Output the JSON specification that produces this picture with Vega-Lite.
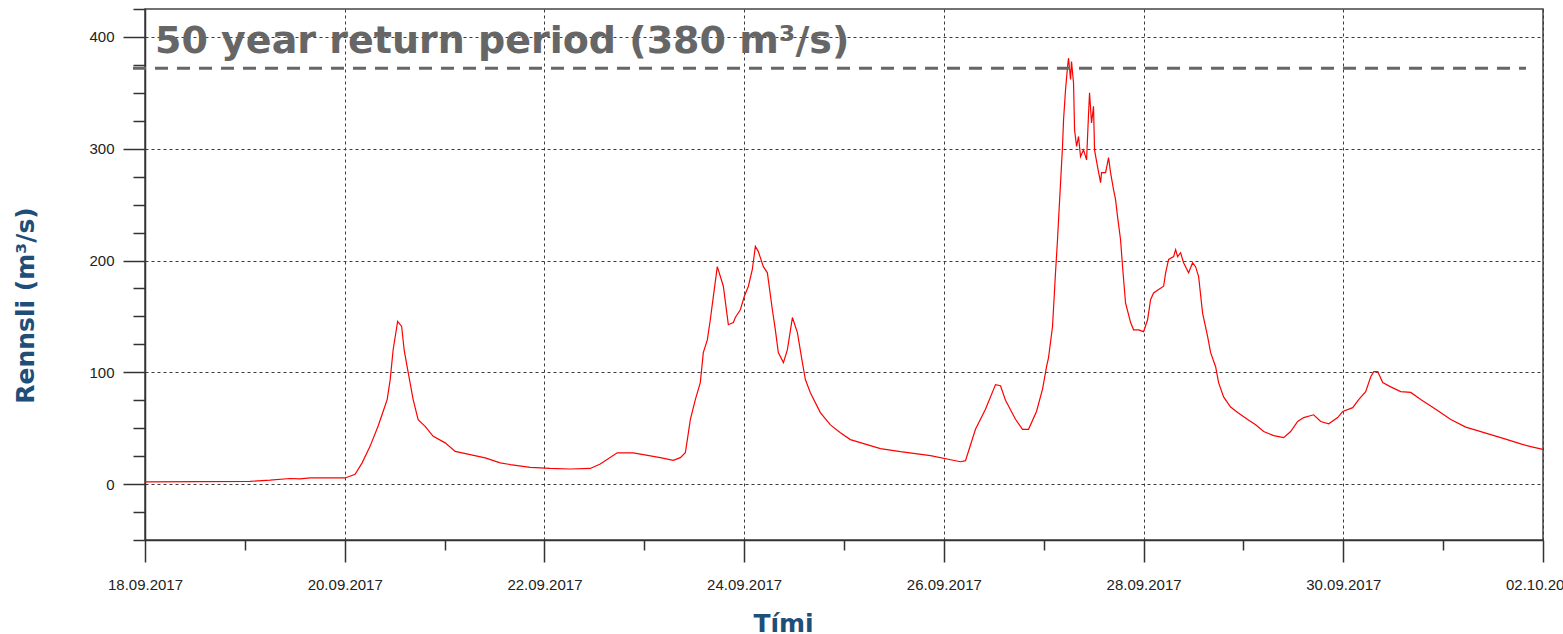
{
  "$schema": "https://vega.github.io/schema/vega-lite/v6.json",
  "width": 1398,
  "height": 531,
  "autosize": {"type": "none"},
  "padding": {"left": 145, "top": 9, "right": 20, "bottom": 94},
  "background": "white",
  "config": {
    "view": {"stroke": "#444", "strokeWidth": 1.5},
    "axis": {
      "domainColor": "#333",
      "domainWidth": 1.5,
      "tickColor": "#333",
      "tickWidth": 1.5,
      "gridColor": "#3c3c3c",
      "gridDash": [3, 3],
      "gridWidth": 1,
      "gridOpacity": 1,
      "labelFont": "Liberation Sans",
      "labelFontSize": 15,
      "labelColor": "#222",
      "titleFont": "DejaVu Sans",
      "titleFontSize": 25,
      "titleFontWeight": "bold",
      "titleColor": "#1f4e79"
    }
  },
  "datasets": {
    "flow": [
      {"t": "2017-09-18T00:00", "q": 2},
      {"t": "2017-09-19T01:15", "q": 2.5},
      {"t": "2017-09-19T06:04", "q": 3.5},
      {"t": "2017-09-19T10:52", "q": 5},
      {"t": "2017-09-19T13:16", "q": 4.6},
      {"t": "2017-09-19T15:41", "q": 5.5},
      {"t": "2017-09-20T00:06", "q": 5.5},
      {"t": "2017-09-20T02:30", "q": 8.8},
      {"t": "2017-09-20T04:11", "q": 19},
      {"t": "2017-09-20T06:07", "q": 34},
      {"t": "2017-09-20T08:02", "q": 52},
      {"t": "2017-09-20T09:14", "q": 65},
      {"t": "2017-09-20T10:12", "q": 75.6},
      {"t": "2017-09-20T10:55", "q": 93},
      {"t": "2017-09-20T11:38", "q": 120},
      {"t": "2017-09-20T12:43", "q": 145.6},
      {"t": "2017-09-20T13:41", "q": 141},
      {"t": "2017-09-20T14:17", "q": 120},
      {"t": "2017-09-20T15:15", "q": 100},
      {"t": "2017-09-20T16:27", "q": 75.6},
      {"t": "2017-09-20T17:39", "q": 57.7},
      {"t": "2017-09-20T19:20", "q": 51.7},
      {"t": "2017-09-20T21:16", "q": 42.8},
      {"t": "2017-09-21T00:09", "q": 36.9},
      {"t": "2017-09-21T02:33", "q": 29.3},
      {"t": "2017-09-21T06:09", "q": 26.4},
      {"t": "2017-09-21T09:46", "q": 23.4},
      {"t": "2017-09-21T13:22", "q": 19},
      {"t": "2017-09-21T15:47", "q": 17.5},
      {"t": "2017-09-21T20:35", "q": 15},
      {"t": "2017-09-22T01:24", "q": 14},
      {"t": "2017-09-22T06:12", "q": 13.5},
      {"t": "2017-09-22T11:01", "q": 14},
      {"t": "2017-09-22T13:25", "q": 18},
      {"t": "2017-09-22T17:30", "q": 28},
      {"t": "2017-09-22T21:21", "q": 28},
      {"t": "2017-09-22T23:46", "q": 26.4},
      {"t": "2017-09-23T03:51", "q": 23.7},
      {"t": "2017-09-23T06:58", "q": 21.3},
      {"t": "2017-09-23T08:40", "q": 23.7},
      {"t": "2017-09-23T09:52", "q": 28},
      {"t": "2017-09-23T10:21", "q": 39.8},
      {"t": "2017-09-23T11:04", "q": 57.7},
      {"t": "2017-09-23T12:16", "q": 75.6},
      {"t": "2017-09-23T13:28", "q": 90.8},
      {"t": "2017-09-23T14:11", "q": 117.6},
      {"t": "2017-09-23T15:09", "q": 129},
      {"t": "2017-09-23T15:52", "q": 147},
      {"t": "2017-09-23T16:36", "q": 168},
      {"t": "2017-09-23T17:33", "q": 194.5},
      {"t": "2017-09-23T19:00", "q": 177},
      {"t": "2017-09-23T20:12", "q": 142.6},
      {"t": "2017-09-23T21:24", "q": 144.5},
      {"t": "2017-09-23T21:53", "q": 149},
      {"t": "2017-09-23T23:05", "q": 156},
      {"t": "2017-09-24T00:03", "q": 168},
      {"t": "2017-09-24T01:01", "q": 177},
      {"t": "2017-09-24T01:58", "q": 192},
      {"t": "2017-09-24T02:42", "q": 212.6},
      {"t": "2017-09-24T03:25", "q": 208},
      {"t": "2017-09-24T04:37", "q": 194.5},
      {"t": "2017-09-24T05:35", "q": 189},
      {"t": "2017-09-24T06:47", "q": 156},
      {"t": "2017-09-24T07:30", "q": 138},
      {"t": "2017-09-24T08:13", "q": 117.6},
      {"t": "2017-09-24T09:26", "q": 108.7},
      {"t": "2017-09-24T10:23", "q": 120},
      {"t": "2017-09-24T11:36", "q": 149},
      {"t": "2017-09-24T12:48", "q": 135.5},
      {"t": "2017-09-24T14:00", "q": 108.7},
      {"t": "2017-09-24T14:43", "q": 93.5},
      {"t": "2017-09-24T15:55", "q": 81.8},
      {"t": "2017-09-24T18:19", "q": 64},
      {"t": "2017-09-24T20:44", "q": 53},
      {"t": "2017-09-24T23:08", "q": 46},
      {"t": "2017-09-25T01:32", "q": 39.8},
      {"t": "2017-09-25T08:45", "q": 31.8},
      {"t": "2017-09-25T13:34", "q": 29},
      {"t": "2017-09-25T20:47", "q": 25.5},
      {"t": "2017-09-26T04:00", "q": 20},
      {"t": "2017-09-26T05:12", "q": 21},
      {"t": "2017-09-26T06:24", "q": 35},
      {"t": "2017-09-26T07:36", "q": 49},
      {"t": "2017-09-26T10:00", "q": 67},
      {"t": "2017-09-26T12:25", "q": 89},
      {"t": "2017-09-26T13:37", "q": 88},
      {"t": "2017-09-26T14:49", "q": 75},
      {"t": "2017-09-26T17:13", "q": 58},
      {"t": "2017-09-26T18:54", "q": 49},
      {"t": "2017-09-26T20:21", "q": 49},
      {"t": "2017-09-26T22:16", "q": 65},
      {"t": "2017-09-26T23:43", "q": 85},
      {"t": "2017-09-27T00:41", "q": 105},
      {"t": "2017-09-27T01:09", "q": 113},
      {"t": "2017-09-27T02:07", "q": 141},
      {"t": "2017-09-27T02:50", "q": 189},
      {"t": "2017-09-27T03:19", "q": 218.6},
      {"t": "2017-09-27T03:34", "q": 236.5},
      {"t": "2017-09-27T04:03", "q": 269.7},
      {"t": "2017-09-27T04:31", "q": 302},
      {"t": "2017-09-27T04:46", "q": 326},
      {"t": "2017-09-27T05:15", "q": 353},
      {"t": "2017-09-27T05:44", "q": 373.5},
      {"t": "2017-09-27T05:58", "q": 381},
      {"t": "2017-09-27T06:27", "q": 362},
      {"t": "2017-09-27T06:41", "q": 378},
      {"t": "2017-09-27T07:10", "q": 359},
      {"t": "2017-09-27T07:25", "q": 317},
      {"t": "2017-09-27T07:54", "q": 302},
      {"t": "2017-09-27T08:22", "q": 311},
      {"t": "2017-09-27T08:51", "q": 293},
      {"t": "2017-09-27T09:34", "q": 299},
      {"t": "2017-09-27T10:18", "q": 290},
      {"t": "2017-09-27T10:47", "q": 332},
      {"t": "2017-09-27T11:01", "q": 350},
      {"t": "2017-09-27T11:30", "q": 323},
      {"t": "2017-09-27T11:58", "q": 338},
      {"t": "2017-09-27T12:13", "q": 299},
      {"t": "2017-09-27T12:56", "q": 284},
      {"t": "2017-09-27T13:40", "q": 269.7},
      {"t": "2017-09-27T13:54", "q": 278.6},
      {"t": "2017-09-27T14:52", "q": 278.6},
      {"t": "2017-09-27T15:35", "q": 292},
      {"t": "2017-09-27T16:04", "q": 278.6},
      {"t": "2017-09-27T16:47", "q": 263.4},
      {"t": "2017-09-27T17:16", "q": 254.5},
      {"t": "2017-09-27T17:45", "q": 239},
      {"t": "2017-09-27T18:28", "q": 218.6},
      {"t": "2017-09-27T18:57", "q": 194.5},
      {"t": "2017-09-27T19:40", "q": 162},
      {"t": "2017-09-27T20:53", "q": 144.5},
      {"t": "2017-09-27T21:36", "q": 138},
      {"t": "2017-09-27T22:48", "q": 138},
      {"t": "2017-09-28T00:00", "q": 136.4},
      {"t": "2017-09-28T00:58", "q": 147},
      {"t": "2017-09-28T01:41", "q": 165},
      {"t": "2017-09-28T02:24", "q": 171},
      {"t": "2017-09-28T03:37", "q": 174},
      {"t": "2017-09-28T04:49", "q": 177},
      {"t": "2017-09-28T05:18", "q": 189},
      {"t": "2017-09-28T06:01", "q": 201},
      {"t": "2017-09-28T07:13", "q": 203.5},
      {"t": "2017-09-28T07:42", "q": 209.8},
      {"t": "2017-09-28T08:11", "q": 203.5},
      {"t": "2017-09-28T08:54", "q": 207},
      {"t": "2017-09-28T09:37", "q": 198},
      {"t": "2017-09-28T10:49", "q": 189},
      {"t": "2017-09-28T11:47", "q": 198},
      {"t": "2017-09-28T12:30", "q": 194.5},
      {"t": "2017-09-28T13:14", "q": 185.6},
      {"t": "2017-09-28T14:11", "q": 153},
      {"t": "2017-09-28T15:24", "q": 132},
      {"t": "2017-09-28T16:07", "q": 117.6},
      {"t": "2017-09-28T17:19", "q": 105},
      {"t": "2017-09-28T18:02", "q": 90.8},
      {"t": "2017-09-28T19:14", "q": 78},
      {"t": "2017-09-28T20:55", "q": 69},
      {"t": "2017-09-28T22:37", "q": 64},
      {"t": "2017-09-29T01:01", "q": 57.7},
      {"t": "2017-09-29T02:56", "q": 53},
      {"t": "2017-09-29T04:52", "q": 47},
      {"t": "2017-09-29T07:16", "q": 43.4},
      {"t": "2017-09-29T09:40", "q": 41.6},
      {"t": "2017-09-29T11:21", "q": 47},
      {"t": "2017-09-29T13:02", "q": 56},
      {"t": "2017-09-29T14:29", "q": 59.5},
      {"t": "2017-09-29T16:53", "q": 62},
      {"t": "2017-09-29T18:34", "q": 56},
      {"t": "2017-09-29T20:30", "q": 54},
      {"t": "2017-09-29T22:39", "q": 59.5},
      {"t": "2017-09-29T23:52", "q": 65},
      {"t": "2017-09-30T02:16", "q": 68.4},
      {"t": "2017-09-30T03:42", "q": 75.6},
      {"t": "2017-09-30T05:23", "q": 82.7},
      {"t": "2017-09-30T06:36", "q": 96},
      {"t": "2017-09-30T07:19", "q": 100.6},
      {"t": "2017-09-30T08:17", "q": 100.6},
      {"t": "2017-09-30T09:29", "q": 90.8},
      {"t": "2017-09-30T11:24", "q": 87},
      {"t": "2017-09-30T13:48", "q": 82.7},
      {"t": "2017-09-30T16:13", "q": 82},
      {"t": "2017-09-30T18:37", "q": 75.6},
      {"t": "2017-09-30T22:13", "q": 67},
      {"t": "2017-10-01T01:50", "q": 57.7},
      {"t": "2017-10-01T05:26", "q": 51},
      {"t": "2017-10-01T09:03", "q": 47},
      {"t": "2017-10-01T13:51", "q": 41.6},
      {"t": "2017-10-01T18:40", "q": 36},
      {"t": "2017-10-01T21:04", "q": 33.5},
      {"t": "2017-10-01T23:57", "q": 31}
    ],
    "threshold": [
      {"start": "2017-09-17T21:07", "end": "2017-10-01T19:55", "level": 372}
    ],
    "note": [
      {"t": "2017-09-18T02:24", "q": 386, "label": "50 year return period (380 m³/s)"}
    ]
  },
  "layer": [
    {
      "data": {"name": "flow"},
      "mark": {"type": "line", "color": "#ff0000", "strokeWidth": 1.2, "interpolate": "linear"},
      "encoding": {
        "x": {
          "field": "t", "type": "temporal",
          "scale": {"domain": [{"year": 2017, "month": 9, "date": 18}, {"year": 2017, "month": 10, "date": 2}], "nice": false},
          "axis": {
            "orient": "bottom",
            "title": "Tími",
            "titleX": 638,
            "titleY": 91,
            "titleBaseline": "alphabetic",
            "values": [
              {"year": 2017, "month": 9, "date": 18},
              {"year": 2017, "month": 9, "date": 20},
              {"year": 2017, "month": 9, "date": 22},
              {"year": 2017, "month": 9, "date": 24},
              {"year": 2017, "month": 9, "date": 26},
              {"year": 2017, "month": 9, "date": 28},
              {"year": 2017, "month": 9, "date": 30},
              {"year": 2017, "month": 10, "date": 2}
            ],
            "format": "%d.%m.%Y",
            "tickSize": 22,
            "labelPadding": 15,
            "labelOverlap": false,
            "labelFlush": false,
            "labelBound": false,
            "grid": true
          }
        },
        "y": {
          "field": "q", "type": "quantitative",
          "scale": {"domain": [-50, 425], "nice": false, "zero": false},
          "axis": {
            "orient": "left",
            "title": "Rennsli (m³/s)",
            "titleX": -112,
            "titleY": 296,
            "titleAlign": "center",
            "titleBaseline": "alphabetic",
            "values": [0, 100, 200, 300, 400],
            "tickSize": 22,
            "labelPadding": 9,
            "grid": true
          }
        }
      }
    },
    {
      "data": {"name": "flow"},
      "mark": {"type": "line", "opacity": 0},
      "encoding": {
        "x": {
          "field": "t", "type": "temporal",
          "axis": {
            "orient": "bottom",
            "title": null,
            "labels": false,
            "grid": false,
            "domain": false,
            "tickSize": 10,
            "values": [
              {"year": 2017, "month": 9, "date": 19},
              {"year": 2017, "month": 9, "date": 21},
              {"year": 2017, "month": 9, "date": 23},
              {"year": 2017, "month": 9, "date": 25},
              {"year": 2017, "month": 9, "date": 27},
              {"year": 2017, "month": 9, "date": 29},
              {"year": 2017, "month": 10, "date": 1}
            ]
          }
        },
        "y": {
          "field": "q", "type": "quantitative",
          "axis": {
            "orient": "left",
            "title": null,
            "labels": false,
            "grid": false,
            "domain": false,
            "tickSize": 12,
            "values": [-50, -25, 25, 50, 75, 125, 150, 175, 225, 250, 275, 325, 350, 375, 425]
          }
        }
      }
    },
    {
      "data": {"name": "threshold"},
      "mark": {"type": "rule", "color": "#666666", "strokeWidth": 3, "strokeDash": [13, 9]},
      "encoding": {
        "x": {"field": "start", "type": "temporal", "axis": null},
        "x2": {"field": "end"},
        "y": {"field": "level", "type": "quantitative", "axis": null}
      }
    },
    {
      "data": {"name": "note"},
      "mark": {"type": "text", "align": "left", "baseline": "alphabetic", "font": "DejaVu Sans", "fontSize": 38, "fontWeight": "bold", "color": "#666666"},
      "encoding": {
        "x": {"field": "t", "type": "temporal", "axis": null},
        "y": {"field": "q", "type": "quantitative", "axis": null},
        "text": {"field": "label"}
      }
    }
  ],
  "resolve": {"axis": {"x": "independent", "y": "independent"}}
}
